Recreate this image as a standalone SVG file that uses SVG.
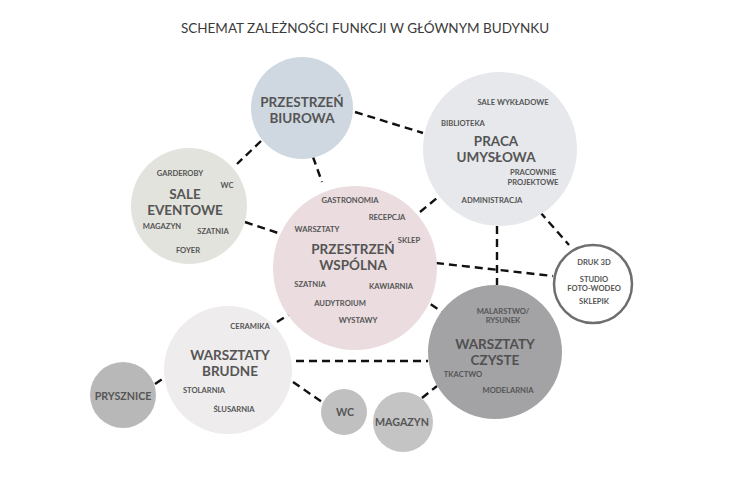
<svg xmlns="http://www.w3.org/2000/svg" width="730" height="480" viewBox="0 0 730 480">
<style>
text{font-family:Lato,"Liberation Sans",sans-serif;fill:#555;text-anchor:middle}
.t{font-size:13.5px;font-weight:bold}
.s{font-size:7.6px;font-weight:bold}
.h{font-size:13.5px;fill:#3a3a3a}
.m{font-size:10.7px;font-weight:bold}
.c{stroke:#111;stroke-width:2.4;stroke-dasharray:8 5;fill:none}
</style>
<rect width="730" height="480" fill="#fff"/>
<text class="h" x="365" y="33">SCHEMAT ZALEŻNOŚCI FUNKCJI W GŁÓWNYM BUDYNKU</text>
<g id="connectors">
<line class="c" x1="355" y1="112" x2="423" y2="133"/>
<line class="c" x1="261" y1="141" x2="237" y2="164"/>
<line class="c" x1="313" y1="157" x2="322" y2="182"/>
<line class="c" x1="245" y1="222" x2="278" y2="233"/>
<line class="c" x1="420" y1="212" x2="437" y2="198"/>
<line class="c" x1="436" y1="263" x2="553" y2="276"/>
<line class="c" x1="497" y1="226" x2="497" y2="285"/>
<line class="c" x1="540" y1="212" x2="569" y2="245"/>
<line class="c" x1="420" y1="297" x2="442" y2="312"/>
<line class="c" x1="277" y1="322" x2="295" y2="311"/>
<line class="c" x1="296" y1="361" x2="428" y2="361"/>
<line class="c" x1="293" y1="382" x2="322" y2="402"/>
<line class="c" x1="155" y1="384" x2="164" y2="378"/>
<line class="c" x1="422" y1="398" x2="437" y2="386"/>
</g>
<g id="biurowa">
<circle cx="302" cy="108" r="51" fill="#cfd8e1"/>
<text class="t" x="302" y="107">PRZESTRZEŃ</text>
<text class="t" x="302" y="123">BIUROWA</text>
</g>
<g id="sale-eventowe">
<circle cx="189" cy="206" r="58" fill="#e3e3de"/>
<text class="t" x="185" y="199">SALE</text>
<text class="t" x="185" y="215">EVENTOWE</text>
<text class="s" x="180" y="176">GARDEROBY</text>
<text class="s" x="227" y="188">WC</text>
<text class="s" x="162" y="229">MAGAZYN</text>
<text class="s" x="213" y="234">SZATNIA</text>
<text class="s" x="188" y="253">FOYER</text>
</g>
<g id="praca-umyslowa">
<circle cx="500" cy="149" r="77" fill="#e6e8eb"/>
<text class="t" x="496" y="146">PRACA</text>
<text class="t" x="496" y="162">UMYSŁOWA</text>
<text class="s" x="513" y="105">SALE WYKŁADOWE</text>
<text class="s" x="463" y="126">BIBLIOTEKA</text>
<text class="s" x="533" y="175">PRACOWNIE</text>
<text class="s" x="533" y="185">PROJEKTOWE</text>
<text class="s" x="492" y="203">ADMINISTRACJA</text>
</g>
<g id="przestrzen-wspolna">
<circle cx="355" cy="268" r="82" fill="#eadcdf"/>
<text class="t" x="353" y="254">PRZESTRZEŃ</text>
<text class="t" x="353" y="270">WSPÓLNA</text>
<text class="s" x="350" y="203">GASTRONOMIA</text>
<text class="s" x="387" y="220">RECEPCJA</text>
<text class="s" x="317" y="232">WARSZTATY</text>
<text class="s" x="409" y="243">SKLEP</text>
<text class="s" x="310" y="287">SZATNIA</text>
<text class="s" x="391" y="289">KAWIARNIA</text>
<text class="s" x="340" y="306">AUDYTROIUM</text>
<text class="s" x="358" y="323">WYSTAWY</text>
</g>
<g id="druk-3d">
<circle cx="593" cy="284" r="39" fill="#fff" stroke="#6e6e6e" stroke-width="2.5"/>
<text class="s" x="594" y="265">DRUK 3D</text>
<text class="s" x="594" y="282">STUDIO</text>
<text class="s" x="594" y="291">FOTO-WODEO</text>
<text class="s" x="594" y="304">SKLEPIK</text>
</g>
<g id="warsztaty-czyste">
<circle cx="495" cy="352" r="67" fill="#a3a2a5"/>
<text class="t" x="495" y="349" style="fill:#505050">WARSZTATY</text>
<text class="t" x="495" y="365" style="fill:#505050">CZYSTE</text>
<text class="s" x="503" y="314">MALARSTWO/</text>
<text class="s" x="503" y="323">RYSUNEK</text>
<text class="s" x="463" y="377">TKACTWO</text>
<text class="s" x="508" y="393">MODELARNIA</text>
</g>
<g id="warsztaty-brudne">
<circle cx="228" cy="370" r="64" fill="#eeeced"/>
<text class="t" x="230" y="360">WARSZTATY</text>
<text class="t" x="230" y="376">BRUDNE</text>
<text class="s" x="250" y="329">CERAMIKA</text>
<text class="s" x="204" y="393">STOLARNIA</text>
<text class="s" x="234" y="412">ŚLUSARNIA</text>
</g>
<g id="prysznice">
<circle cx="123" cy="395" r="33" fill="#b8b8b8"/>
<text class="m" x="123" y="400">PRYSZNICE</text>
</g>
<g id="wc">
<circle cx="344" cy="412" r="23" fill="#c0c0c0"/>
<text class="m" x="345" y="416">WC</text>
</g>
<g id="magazyn">
<circle cx="403" cy="422" r="30" fill="#c4c4c4"/>
<text class="m" x="402" y="426">MAGAZYN</text>
</g>
</svg>
